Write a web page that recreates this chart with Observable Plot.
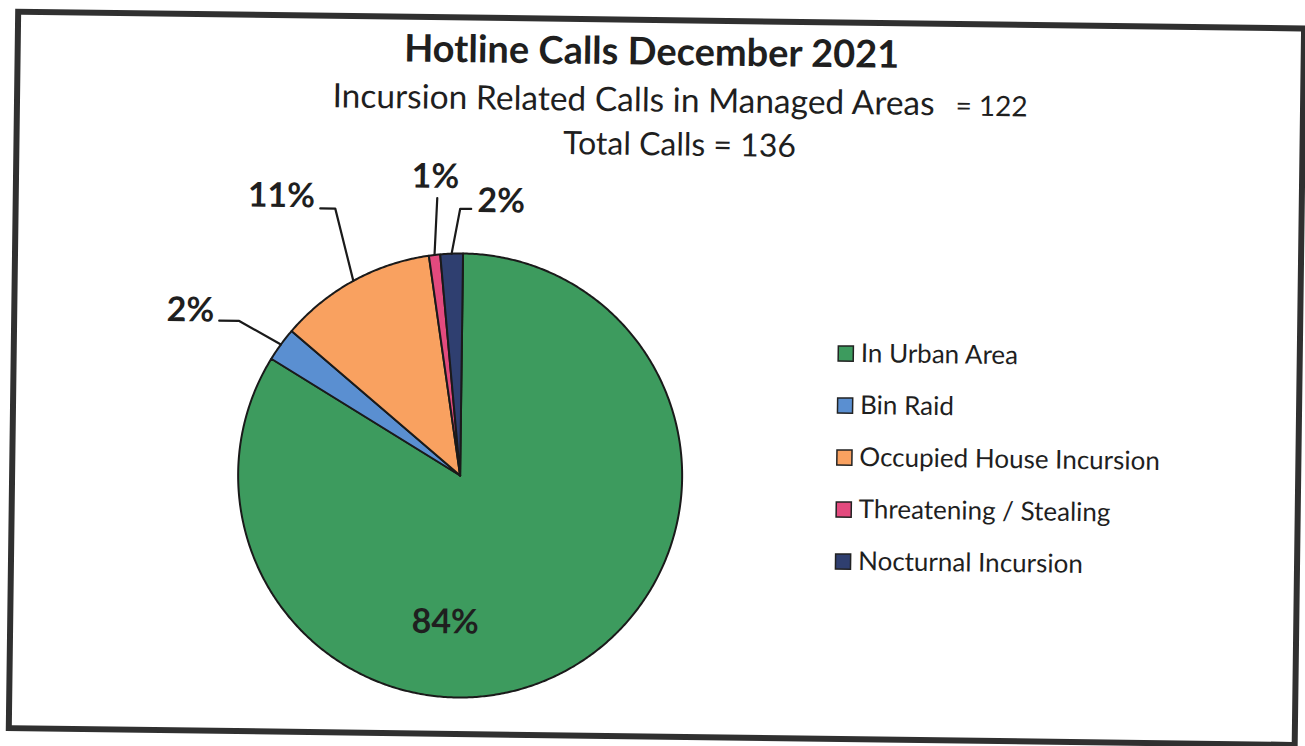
<!DOCTYPE html>
<html><head><meta charset="utf-8">
<script src="https://cdn.jsdelivr.net/npm/d3@7"></script>
<script src="https://cdn.jsdelivr.net/npm/@observablehq/plot@0.6"></script>
<style>
body{margin:0;background:#fff;overflow:hidden}
svg{display:block;transform:rotate(0.75deg);transform-origin:652px 373px}
</style>
</head><body><div id="chart"></div>
<script>
// ---- data ----
const categories = ["In Urban Area","Bin Raid","Occupied House Incursion","Threatening / Stealing","Nocturnal Incursion"];
const calls = [102, 3, 14, 1, 2];
const colors = ["#3d9b5e","#5a8fd1","#f9a160","#e34a7e","#2f3f70"];
const titleText = "Hotline Calls December 2021";
const subtitleText = "Incursion Related Calls in Managed Areas";
const incursionTotal = 122;
const totalCallsText = "Total Calls";
const totalCalls = 136;

// ---- layout ----
const W = 1305, H = 746, cx = 461, cy = 477.5, R = 222;
const FONT = "Lato, 'Open Sans', sans-serif";
// label offsets (px) relative to slice rim anchor (green: relative to centre)
const labelLayout = [
  {text:[-13,147], line:null},
  {text:[-91,-33], line:[[-62,-23],[-42,-23]]},
  {text:[-73,-84], line:[[-34,-72],[-19,-72]]},
  {text:[0,-78],   line:[[2,-57]]},
  {text:[49,-53],  line:[[19,-45],[8,-45]]}
];

const total = d3.sum(calls);
let cum = 0;
const slices = categories.map((c,i) => {
  const a0 = cum/total*2*Math.PI; cum += calls[i]; const a1 = cum/total*2*Math.PI;
  return {cat:c, i, value:calls[i], pct:Math.round(calls[i]/total*100), a0, a1, mid:(a0+a1)/2};
});
const pt = (a, r) => [cx + r*Math.sin(a), cy - r*Math.cos(a)];

const piePts = slices.flatMap(s => {
  const n = Math.max(2, Math.ceil((s.a1-s.a0)/(Math.PI/360)));
  const pts = [{cat:s.cat, p:[cx,cy]}];
  for (let k=0;k<=n;k++) pts.push({cat:s.cat, p:pt(s.a0+(s.a1-s.a0)*k/n, R)});
  pts.push({cat:s.cat, p:[cx,cy]});
  return pts;
});

const labels = slices.map(s => {
  const L = labelLayout[s.i];
  const base = L.line ? pt(s.mid, R) : [cx, cy];
  return {cat:s.cat, text:s.pct + "%", p:[base[0]+L.text[0], base[1]+L.text[1]]};
});
const leaders = slices.filter(s => labelLayout[s.i].line).flatMap(s => {
  const A = pt(s.mid, R);
  const L = labelLayout[s.i];
  return [...L.line.map(o => ({cat:s.cat, p:[A[0]+o[0], A[1]+o[1]]})), {cat:s.cat, p:A}];
});

const legendRows = categories.map((c,i) => ({cat:c, i}));
const TXT = "#1f1f1f";

const plot = Plot.plot({
  width: W, height: H, margin: 0,
  x: {domain:[0,W], range:[0,W], axis:null},
  y: {domain:[0,H], range:[0,H], axis:null},
  color: {domain: categories, range: colors},
  style: {fontFamily: FONT, background:"#fff"},
  marks: [
    Plot.frame({stroke:"#303030", strokeWidth:6, insetLeft:13, insetTop:19.5, insetRight:6, insetBottom:10}),
    Plot.line(piePts, {x:d=>d.p[0], y:d=>d.p[1], z:"cat", fill:"cat", stroke:"#1a1a1a", strokeWidth:2, strokeLinejoin:"round", curve:"linear"}),
    Plot.line(leaders, {x:d=>d.p[0], y:d=>d.p[1], z:"cat", stroke:"#1a1a1a", strokeWidth:2.2}),
    Plot.text(labels, {x:d=>d.p[0], y:d=>d.p[1], text:"text", fontSize:34, fontWeight:"bold", fill:TXT, lineAnchor:"middle"}),
    // titles
    Plot.text([titleText], {x:()=>647, y:()=>52, text:d=>d, fontSize:38, fontWeight:"bold", fill:TXT, lineAnchor:"middle"}),
    Plot.text([subtitleText], {x:()=>328.5, y:()=>100.3, text:d=>d, fontSize:33.5, fill:TXT, textAnchor:"start", lineAnchor:"middle"}),
    Plot.text(["= " + incursionTotal], {x:()=>951.5, y:()=>102, text:d=>d, fontSize:28, fill:TXT, textAnchor:"start", lineAnchor:"middle"}),
    Plot.text([totalCallsText + " = " + totalCalls], {x:()=>676, y:()=>144.4, text:d=>d, fontSize:32, fill:TXT, lineAnchor:"middle"}),
    // legend
    Plot.dot(legendRows, {x:()=>845, y:d=>350.5 + d.i*52, symbol:"square", r:8.5, fill:"cat", stroke:"#222", strokeWidth:1.5}),
    Plot.text(legendRows, {x:()=>860, y:d=>350.5 + d.i*52, text:"cat", fontSize:26, fill:TXT, textAnchor:"start", lineAnchor:"middle"})
  ]
});
document.getElementById("chart").appendChild(plot);
</script>
</body></html>
